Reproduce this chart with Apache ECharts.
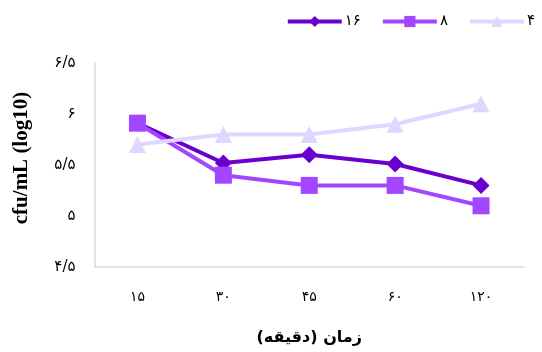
<!DOCTYPE html>
<html>
<head>
<meta charset="utf-8">
<style>
  html, body { margin: 0; padding: 0; background: #ffffff; }
  #chart { width: 542px; height: 352px; }
</style>
<script src="https://cdn.jsdelivr.net/npm/echarts@6/dist/echarts.min.js"></script>
</head>
<body>
<div id="chart"></div>
<script>
// Sampling times (minutes)
const categories = ['۱۵', '۳۰', '۴۵', '۶۰', '۱۲۰'];
// Series names as shown in the legend
const seriesNames = ['۱۶', '۸', '۴'];
// log10 cfu/mL for each series
const values16 = [5.91, 5.52, 5.60, 5.51, 5.30];
const values8 = [5.91, 5.40, 5.30, 5.30, 5.10];
const values4 = [5.70, 5.80, 5.80, 5.90, 6.10];

const colors = ['#6a00cf', '#a246ff', '#e0d6ff'];
const symbols = ['diamond', 'rect', 'triangle'];
const seriesData = [values16, values8, values4];

const persianDigits = ['۰', '۱', '۲', '۳', '۴', '۵', '۶', '۷', '۸', '۹'];
function toPersian(v) {
  return String(v).replace('.', '/').replace(/[0-9]/g, d => persianDigits[+d]);
}

const chart = echarts.init(document.getElementById('chart'), null, { renderer: 'canvas' });

const labelFont = 'DejaVu Sans, Noto Sans, sans-serif';

chart.setOption({
  animation: false,
  backgroundColor: '#ffffff',
  legend: {
    top: 9,
    right: 2,
    itemWidth: 54,
    itemHeight: 14,
    itemGap: 20,
    lineStyle: { width: 4 },
    textStyle: { fontFamily: labelFont, fontSize: 15, color: '#000000', padding: [0, 0, 0, -2] },
    data: seriesNames
  },
  grid: { left: 94.5, right: 18, top: 63, bottom: 85 },
  xAxis: {
    type: 'category',
    data: categories,
    boundaryGap: true,
    axisLine: { lineStyle: { color: '#d9d9d9', width: 1.5 } },
    axisTick: { show: false },
    axisLabel: { margin: 23, fontFamily: labelFont, fontSize: 14, color: '#000000' },
    name: 'زمان (دقیقه)',
    nameLocation: 'middle',
    nameGap: 63,
    nameTextStyle: { fontFamily: labelFont, fontSize: 16, fontWeight: 'bold', color: '#000000' }
  },
  yAxis: {
    type: 'value',
    min: 4.5,
    max: 6.5,
    interval: 0.5,
    splitLine: { show: false },
    axisLine: { show: true, lineStyle: { color: '#d9d9d9', width: 1.5 } },
    axisTick: { show: false },
    axisLabel: {
      margin: 19,
      fontFamily: labelFont,
      fontSize: 15,
      color: '#000000',
      formatter: v => toPersian(v)
    },
    name: 'cfu/mL (log10)',
    nameLocation: 'middle',
    nameGap: 62,
    nameTextStyle: {
      fontFamily: 'Liberation Serif, serif',
      fontSize: 21,
      fontWeight: 'bold',
      color: '#000000',
      padding: [0, 0, 0, 14]
    }
  },
  series: seriesNames.map((name, i) => ({
    name: name,
    type: 'line',
    data: seriesData[i],
    symbol: symbols[i],
    symbolSize: 17,
    showAllSymbol: true,
    itemStyle: { color: colors[i] },
    lineStyle: { color: colors[i], width: 4 },
    z: 2 + i
  }))
});
</script>
</body>
</html>
